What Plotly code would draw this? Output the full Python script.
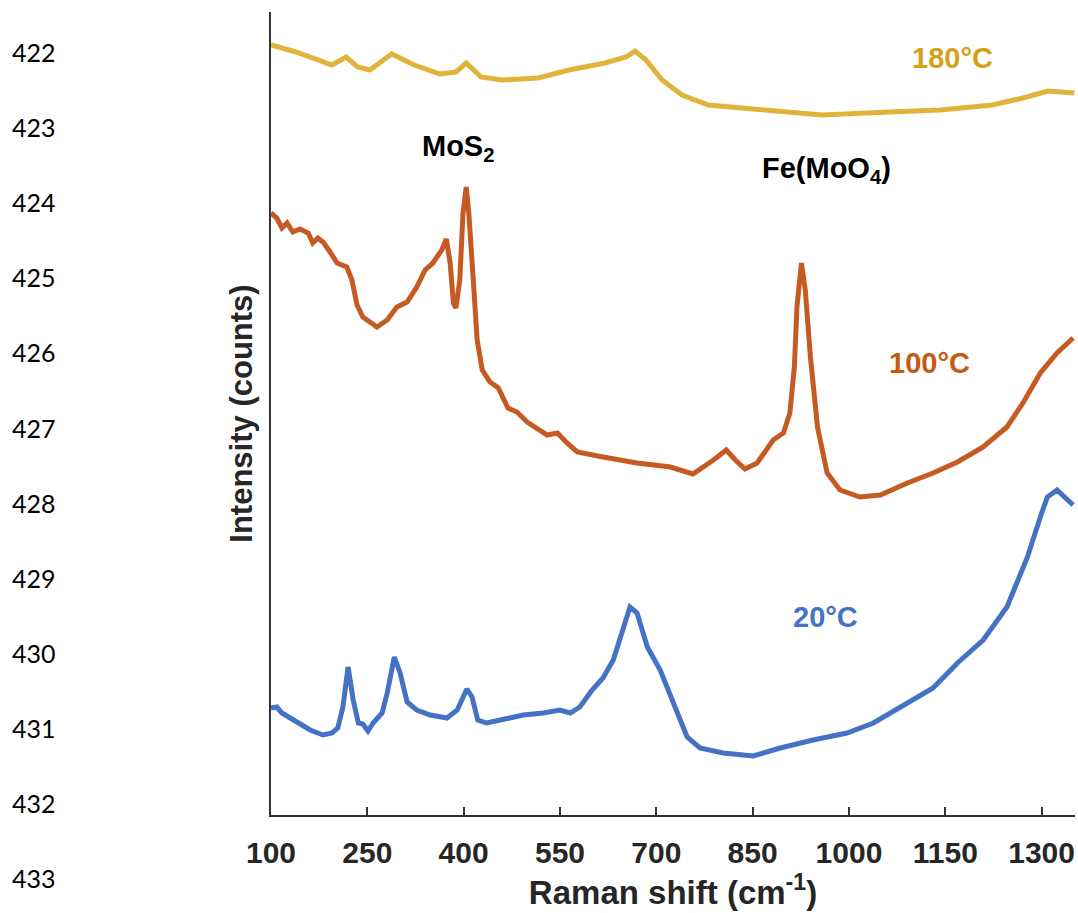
import plotly.graph_objects as go

# ---- data (Raman shift in cm^-1, intensity in arbitrary counts) ----
x_180 = [100, 139, 195, 217, 235, 254, 271, 288, 323, 363, 388, 404, 427, 460, 516, 564,
         620, 653, 667, 684, 709, 740, 781, 862, 958, 1063, 1142, 1223, 1271, 1310, 1351]
y_180 = [770, 763, 750, 758, 748, 745, 753, 761, 750, 741, 743, 752, 738, 735, 737, 745,
         752, 758, 764, 755, 735, 720, 710, 705, 700, 703, 705, 710, 717, 724, 722]

x_100 = [100, 109, 117, 125, 134, 145, 158, 165, 173, 181, 192, 203, 218, 226, 234, 243,
         265, 281, 296, 312, 327, 340, 352, 366, 373, 379, 384, 388, 394, 399, 404, 408,
         415, 421, 429, 441, 454, 469, 483, 499, 530, 546, 561, 577, 617, 670, 722, 757,
         789, 809, 823, 838, 857, 873, 882, 898, 908, 915, 919, 926, 932, 940, 951, 966,
         986, 1017, 1049, 1091, 1131, 1169, 1209, 1246, 1271, 1298, 1324, 1349]
y_100 = [602, 597, 587, 592, 583, 586, 582, 572, 577, 573, 563, 552, 548, 535, 510, 498,
         488, 495, 508, 513, 528, 545, 552, 565, 576, 552, 512, 507, 535, 602, 628, 602,
         535, 475, 445, 433, 427, 407, 403, 393, 380, 382, 372, 363, 358, 352, 348, 341,
         355, 365, 355, 346, 352, 368, 375, 382, 402, 448, 508, 552, 525, 458, 388, 342,
         325, 318, 320, 332, 342, 353, 368, 388, 412, 442, 462, 477]

x_20 = [100, 109, 117, 130, 145, 161, 181, 195, 204, 212, 220, 228, 236, 243, 251, 259,
        273, 281, 292, 301, 312, 327, 348, 363, 374, 390, 399, 405, 413, 422, 436, 461,
        493, 524, 550, 566, 581, 600, 617, 633, 648, 659, 670, 686, 706, 726, 748, 768,
        804, 851, 893, 944, 997, 1038, 1091, 1131, 1169, 1209, 1246, 1278, 1298, 1309,
        1324, 1340, 1349]
y_20 = [107, 108, 102, 97, 90, 85, 80, 82, 87, 108, 148, 115, 92, 91, 84, 92,
        102, 122, 158, 142, 113, 105, 100, 98, 97, 105, 117, 126, 118, 95, 92, 95,
        100, 102, 105, 102, 108, 125, 137, 155, 188, 208, 202, 168, 145, 112, 78, 67,
        62, 59, 67, 75, 82, 92, 112, 127, 152, 175, 208, 258, 298, 318,
        325, 315, 310]

x_ticks = [100, 250, 400, 550, 700, 850, 1000, 1150, 1300]
line_numbers = ["422", "423", "424", "425", "426", "427", "428", "429", "430", "431", "432", "433"]

C_180 = "#E0B33A"
C_100 = "#C55A22"
C_20 = "#4472C4"

fig = go.Figure()
for xs, ys, c, name in [(x_180, y_180, C_180, "180°C"),
                        (x_100, y_100, C_100, "100°C"),
                        (x_20, y_20, C_20, "20°C")]:
    fig.add_trace(go.Scatter(x=xs, y=ys, mode="lines", name=name,
                             line=dict(color=c, width=5), showlegend=False))

bold = "Liberation Sans"
annots = [
    dict(x=392, y=667, text="<b>MoS<sub>2</sub></b>", color="#000000"),
    dict(x=965, y=645, text="<b>Fe(MoO<sub>4</sub>)</b>", color="#000000"),
    dict(x=1162, y=757, text="<b>180°C</b>", color="#D1A21A"),
    dict(x=1126, y=452, text="<b>100°C</b>", color="#C55A11"),
    dict(x=963, y=198, text="<b>20°C</b>", color="#4472C4"),
]
for a in annots:
    fig.add_annotation(x=a["x"], y=a["y"], xref="x", yref="y", text=a["text"],
                       showarrow=False, font=dict(family=bold, size=29, color=a["color"]))

# manuscript line numbers on the left
for i, t in enumerate(line_numbers):
    py = 52 + 75.1 * i
    fig.add_annotation(x=(10 - 271) / 804, y=(815 - py) / 803, xref="paper", yref="paper",
                       text=t, showarrow=False, xanchor="left", yanchor="middle",
                       font=dict(family="Lato", size=25, color="#000000"))

fig.update_layout(
    width=1078, height=913,
    margin=dict(l=271, r=3, t=12, b=98),
    paper_bgcolor="white", plot_bgcolor="white",
    font=dict(family=bold, color="#262626"),
)
fig.update_xaxes(
    range=[100, 1352], tickvals=x_ticks, ticktext=["<b>%d</b>" % v for v in x_ticks],
    ticks="inside", ticklen=8, tickwidth=2, tickcolor="#333333",
    showline=True, linecolor="#333333", linewidth=2, showgrid=False, zeroline=False,
    tickfont=dict(family=bold, size=30, color="#262626"), ticklabelstandoff=10,
    title=dict(text="<b>Raman shift (cm<sup>-1</sup>)</b>", standoff=12,
               font=dict(family=bold, size=33, color="#262626")),
    automargin=False,
)
fig.update_yaxes(
    range=[0, 803], showticklabels=False, ticks="",
    showline=True, linecolor="#333333", linewidth=2, showgrid=False, zeroline=False,
    title=dict(text="<b>Intensity (counts)</b>", standoff=7,
               font=dict(family=bold, size=31, color="#262626")),
    automargin=False,
)

fig.write_html("out.html", config={"displayModeBar": False},
               post_script="document.body.style.margin='0';")
